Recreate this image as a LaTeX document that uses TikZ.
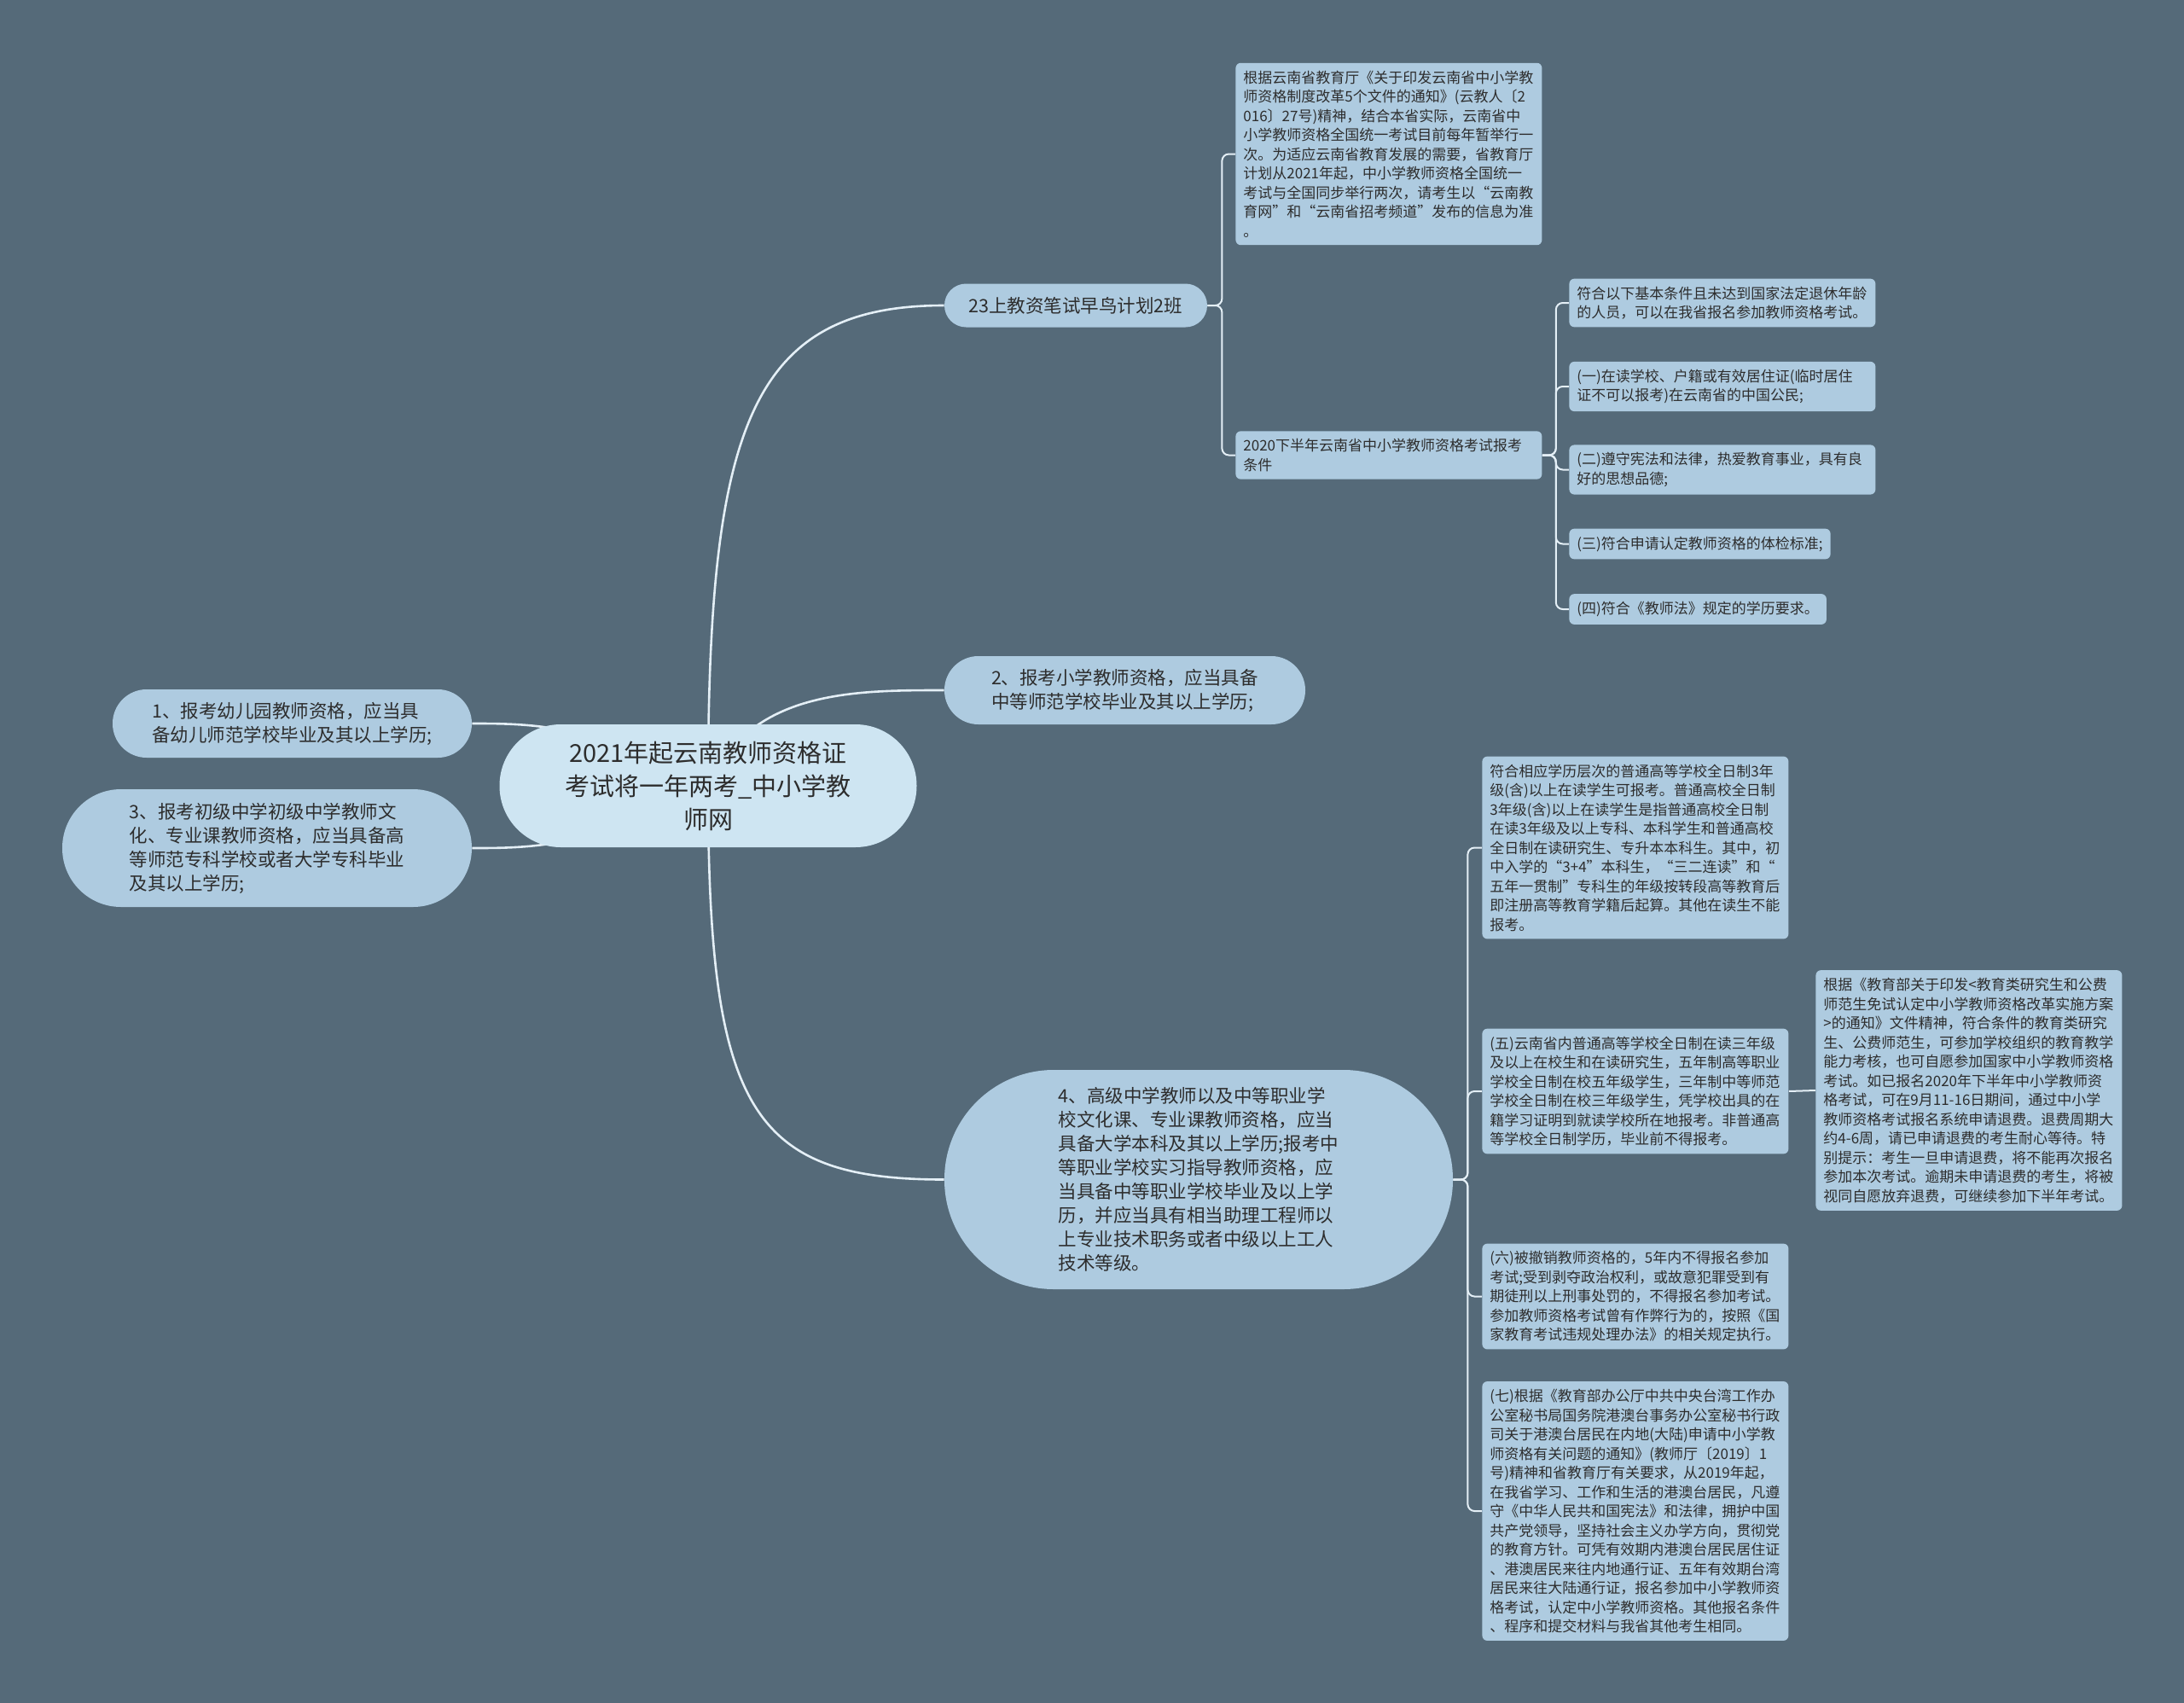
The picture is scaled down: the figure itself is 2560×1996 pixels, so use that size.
\documentclass[tikz,border=0pt]{standalone}
\usepackage{fontspec}
\setmainfont{Noto Sans CJK SC}
\usetikzlibrary{backgrounds}
\definecolor{bgcol}{RGB}{85,106,121}
\definecolor{boxcol}{RGB}{174,203,224}
\definecolor{rootcol}{RGB}{206,229,242}
\definecolor{linecol}{RGB}{228,239,246}
\definecolor{txtcol}{RGB}{45,45,45}
\tikzset{
  pill/.style={fill=boxcol, text=txtcol, align=left, inner sep=0pt,
    font=\fontsize{10.75}{14}\selectfont},
  sbox/.style={fill=boxcol, text=txtcol, align=left, anchor=west,
    inner sep=4.5pt, rounded corners=3pt, font=\fontsize{8.5}{11.25}\selectfont},
  wide/.style={text width=170.5pt},
  trunk/.style={draw=linecol, line width=1.3pt},
  branch/.style={draw=linecol, line width=1pt, rounded corners=4pt},
}
\begin{document}
\begin{tikzpicture}[x=0.5pt, y=-0.5pt]
  \useasboundingbox (0,0) rectangle (2560,1996);
  % centre
  \node[pill, fill=rootcol, align=center, minimum width=244.5pt, minimum height=72pt,
    rounded corners=35.9pt, font=\fontsize{14.5}{19.5}\selectfont] (root) at (830,921)
    {2021年起云南教师资格证\\考试将一年两考\_中小学教\\师网};
  % left side
  \node[pill, minimum width=210.5pt, minimum height=40pt, rounded corners=19.9pt] (l1) at (342.5,848)
    {1、报考幼儿园教师资格，应当具\\备幼儿师范学校毕业及其以上学历;};
  \node[pill, minimum width=240pt, minimum height=69pt, rounded corners=34.4pt] (l3) at (313,994)
    {3、报考初级中学初级中学教师文\\化、专业课教师资格，应当具备高\\等师范专科学校或者大学专科毕业\\及其以上学历;};
  % right side
  \node[pill, minimum width=154pt, minimum height=25.5pt, rounded corners=12.7pt] (n23) at (1261,358)
    {23上教资笔试早鸟计划2班};
  \node[pill, minimum width=211.5pt, minimum height=40pt, rounded corners=19.9pt] (n2) at (1318.5,809)
    {2、报考小学教师资格，应当具备\\中等师范学校毕业及其以上学历;};
  \node[pill, minimum width=298pt, minimum height=128.5pt, rounded corners=64.1pt] (n4) at (1405,1382.5)
    {4、高级中学教师以及中等职业学\\校文化课、专业课教师资格，应当\\具备大学本科及其以上学历;报考中\\等职业学校实习指导教师资格，应\\当具备中等职业学校毕业及以上学\\历，并应当具有相当助理工程师以\\上专业技术职务或者中级以上工人\\技术等级。};
  % under 23
  \node[sbox, wide] (t1) at (1448,180.5)
    {根据云南省教育厅《关于印发云南省中小学教\\师资格制度改革5个文件的通知》(云教人〔2\\016〕27号)精神，结合本省实际，云南省中\\小学教师资格全国统一考试目前每年暂举行一\\次。为适应云南省教育发展的需要，省教育厅\\计划从2021年起，中小学教师资格全国统一\\考试与全国同步举行两次，请考生以“云南教\\育网”和“云南省招考频道”发布的信息为准\\。};
  \node[sbox, wide] (n2020) at (1448,533.5)
    {2020下半年云南省中小学教师资格考试报考\\条件};
  \node[sbox, wide] (s1) at (1839,355)
    {符合以下基本条件且未达到国家法定退休年龄\\的人员，可以在我省报名参加教师资格考试。};
  \node[sbox, wide] (s2) at (1839,453)
    {(一)在读学校、户籍或有效居住证(临时居住\\证不可以报考)在云南省的中国公民;};
  \node[sbox, wide] (s3) at (1839,550.5)
    {(二)遵守宪法和法律，热爱教育事业，具有良\\好的思想品德;};
  \node[sbox] (s4) at (1839,637.5) {(三)符合申请认定教师资格的体检标准;};
  \node[sbox] (s5) at (1839,714) {(四)符合《教师法》规定的学历要求。};
  % under 4
  \node[sbox, wide] (c1) at (1737,993.5)
    {符合相应学历层次的普通高等学校全日制3年\\级(含)以上在读学生可报考。普通高校全日制\\3年级(含)以上在读学生是指普通高校全日制\\在读3年级及以上专科、本科学生和普通高校\\全日制在读研究生、专升本本科生。其中，初\\中入学的“3+4”本科生，“三二连读”和“\\五年一贯制”专科生的年级按转段高等教育后\\即注册高等教育学籍后起算。其他在读生不能\\报考。};
  \node[sbox, wide] (c2) at (1737,1279)
    {(五)云南省内普通高等学校全日制在读三年级\\及以上在校生和在读研究生，五年制高等职业\\学校全日制在校五年级学生，三年制中等师范\\学校全日制在校三年级学生，凭学校出具的在\\籍学习证明到就读学校所在地报考。非普通高\\等学校全日制学历，毕业前不得报考。};
  \node[sbox, wide] (c3) at (1737,1519.5)
    {(六)被撤销教师资格的，5年内不得报名参加\\考试;受到剥夺政治权利，或故意犯罪受到有\\期徒刑以上刑事处罚的，不得报名参加考试。\\参加教师资格考试曾有作弊行为的，按照《国\\家教育考试违规处理办法》的相关规定执行。};
  \node[sbox, wide] (c4) at (1737,1771)
    {(七)根据《教育部办公厅中共中央台湾工作办\\公室秘书局国务院港澳台事务办公室秘书行政\\司关于港澳台居民在内地(大陆)申请中小学教\\师资格有关问题的通知》(教师厅〔2019〕1\\号)精神和省教育厅有关要求，从2019年起，\\在我省学习、工作和生活的港澳台居民，凡遵\\守《中华人民共和国宪法》和法律，拥护中国\\共产党领导，坚持社会主义办学方向，贯彻党\\的教育方针。可凭有效期内港澳台居民居住证\\、港澳居民来往内地通行证、五年有效期台湾\\居民来往大陆通行证，报名参加中小学教师资\\格考试，认定中小学教师资格。其他报名条件\\、程序和提交材料与我省其他考生相同。};
  \node[sbox, wide] (r1) at (2128,1278)
    {根据《教育部关于印发<教育类研究生和公费\\师范生免试认定中小学教师资格改革实施方案\\>的通知》文件精神，符合条件的教育类研究\\生、公费师范生，可参加学校组织的教育教学\\能力考核，也可自愿参加国家中小学教师资格\\考试。如已报名2020年下半年中小学教师资\\格考试，可在9月11-16日期间，通过中小学\\教师资格考试报名系统申请退费。退费周期大\\约4-6周，请已申请退费的考生耐心等待。特\\别提示：考生一旦申请退费，将不能再次报名\\参加本次考试。逾期未申请退费的考生，将被\\视同自愿放弃退费，可继续参加下半年考试。};
  \begin{pgfonlayer}{background}
    \fill[bgcol] (0,0) rectangle (2560,1996);
    \draw[trunk] (root.center) .. controls (830,500) and (880,358) .. (n23.west);
    \draw[trunk] (root.center) .. controls (880,809) and (1000,809) .. (n2.west);
    \draw[trunk] (root.center) .. controls (830,1300) and (880,1382.5) .. (n4.west);
    \draw[trunk] (root.center) .. controls (700,848) and (620,848) .. (l1.east);
    \draw[trunk] (root.center) .. controls (700,994) and (620,994) .. (l3.east);
    \begin{scope}[branch]
      \draw (n23.east) -- ++(17,0) |- (t1.west);
      \draw (n23.east) -- ++(17,0) |- (n2020.west);
      \foreach \s in {s1,s2,s3,s4,s5}
        \draw (n2020.east) -- ++(16,0) |- (\s.west);
      \foreach \c in {c1,c2,c3,c4}
        \draw (n4.east) -- ++(17,0) |- (\c.west);
      \draw (c2.east) -- (r1.west);
    \end{scope}
  \end{pgfonlayer}
\end{tikzpicture}
\end{document}
